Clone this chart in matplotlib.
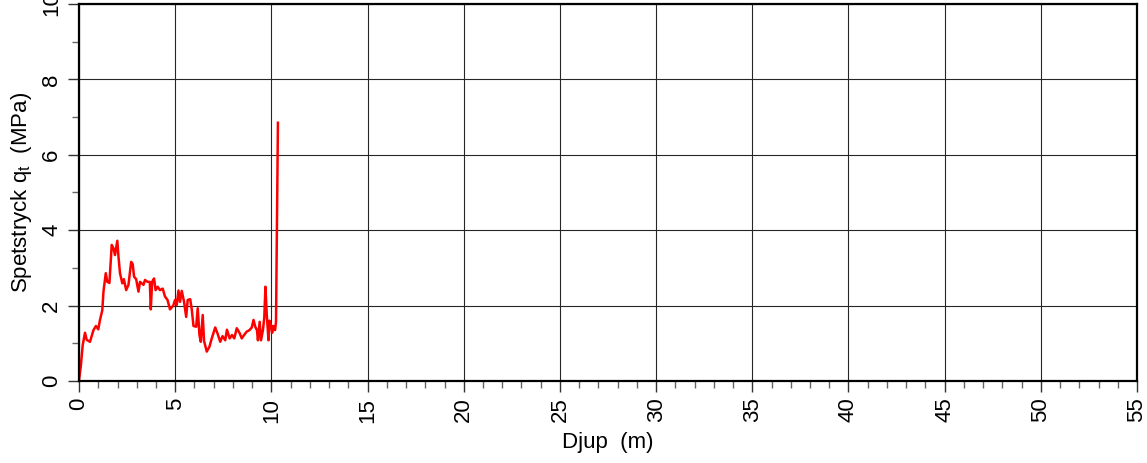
import matplotlib
matplotlib.use("Agg")
import matplotlib.pyplot as plt
from matplotlib.ticker import MultipleLocator

plt.rcParams["font.family"] = ["Liberation Sans", "DejaVu Sans"]
plt.rcParams["mathtext.fontset"] = "custom"
plt.rcParams["mathtext.rm"] = "Liberation Sans"

# Sondering: djup (m) och spetstryck qt (MPa)
djup = [0.0, 0.09, 0.19, 0.31, 0.40, 0.57, 0.75, 0.88, 1.00, 1.09, 1.21, 1.27,
        1.39, 1.47, 1.58, 1.70, 1.79, 1.87, 1.99, 2.05, 2.13, 2.25, 2.33, 2.45,
        2.57, 2.71, 2.79, 2.86, 2.97, 3.09, 3.17, 3.35, 3.43, 3.56, 3.68, 3.73,
        3.80, 3.90, 3.98, 4.09, 4.21, 4.35, 4.47, 4.60, 4.73, 4.90, 4.99, 5.08,
        5.17, 5.25, 5.34, 5.46, 5.57, 5.65, 5.78, 5.86, 5.95, 6.09, 6.17, 6.26,
        6.33, 6.43, 6.50, 6.64, 6.78, 6.90, 7.08, 7.20, 7.34, 7.46, 7.60, 7.69,
        7.83, 7.95, 8.07, 8.20, 8.34, 8.46, 8.58, 8.72, 8.86, 8.98, 9.07, 9.16,
        9.25, 9.30, 9.39, 9.46, 9.56, 9.63, 9.69, 9.76, 9.85, 9.90, 9.97, 10.04,
        10.10, 10.19, 10.24, 10.34]
qt = [0.03, 0.38, 0.95, 1.28, 1.09, 1.04, 1.35, 1.46, 1.37, 1.62, 1.88, 2.37,
      2.86, 2.63, 2.60, 3.61, 3.52, 3.34, 3.72, 3.30, 2.86, 2.59, 2.70, 2.41,
      2.55, 3.16, 3.10, 2.77, 2.70, 2.37, 2.63, 2.55, 2.68, 2.63, 2.63, 1.90,
      2.63, 2.72, 2.41, 2.50, 2.41, 2.45, 2.24, 2.15, 1.90, 2.00, 2.15, 2.02,
      2.40, 2.10, 2.39, 2.10, 1.70, 2.15, 2.17, 1.90, 1.46, 1.44, 1.93, 1.22,
      1.04, 1.75, 1.06, 0.78, 0.91, 1.13, 1.42, 1.26, 1.04, 1.19, 1.08, 1.36,
      1.13, 1.22, 1.13, 1.40, 1.28, 1.13, 1.22, 1.31, 1.35, 1.42, 1.62, 1.44,
      1.35, 1.08, 1.57, 1.08, 1.35, 1.68, 2.50, 1.76, 1.08, 1.60, 1.50, 1.28,
      1.46, 1.35, 1.57, 6.85]

fig = plt.figure(figsize=(11.47, 4.63), dpi=100)
ax = fig.add_axes([0.0689, 0.1771, 0.9224, 0.8143])

ax.plot(djup, qt, color="red", linewidth=1.8)

ax.set_xlim(0, 55)
ax.set_ylim(0, 10)
ax.xaxis.set_major_locator(MultipleLocator(5))
ax.xaxis.set_minor_locator(MultipleLocator(1))
ax.yaxis.set_major_locator(MultipleLocator(2))
ax.yaxis.set_minor_locator(MultipleLocator(1))

ax.grid(True, which="major", color="0.15", linewidth=0.8)
ax.tick_params(which="major", direction="out", length=8, width=1, labelsize=16,
               color="0.2", pad=4)
ax.tick_params(which="minor", direction="out", length=5, width=1, color="0.4")
ax.tick_params(axis="x", labelrotation=90)
ax.tick_params(axis="y", labelrotation=90)
for lbl in ax.get_yticklabels():
    lbl.set_va("center")

for side in ax.spines.values():
    side.set_linewidth(1.6)

ax.set_xlabel("Djup  (m)", fontsize=16, labelpad=7)
ax.set_ylabel(r"Spetstryck q$_\mathregular{t}$  (MPa)", fontsize=16, labelpad=5)

fig.savefig("out.png", dpi=100)
